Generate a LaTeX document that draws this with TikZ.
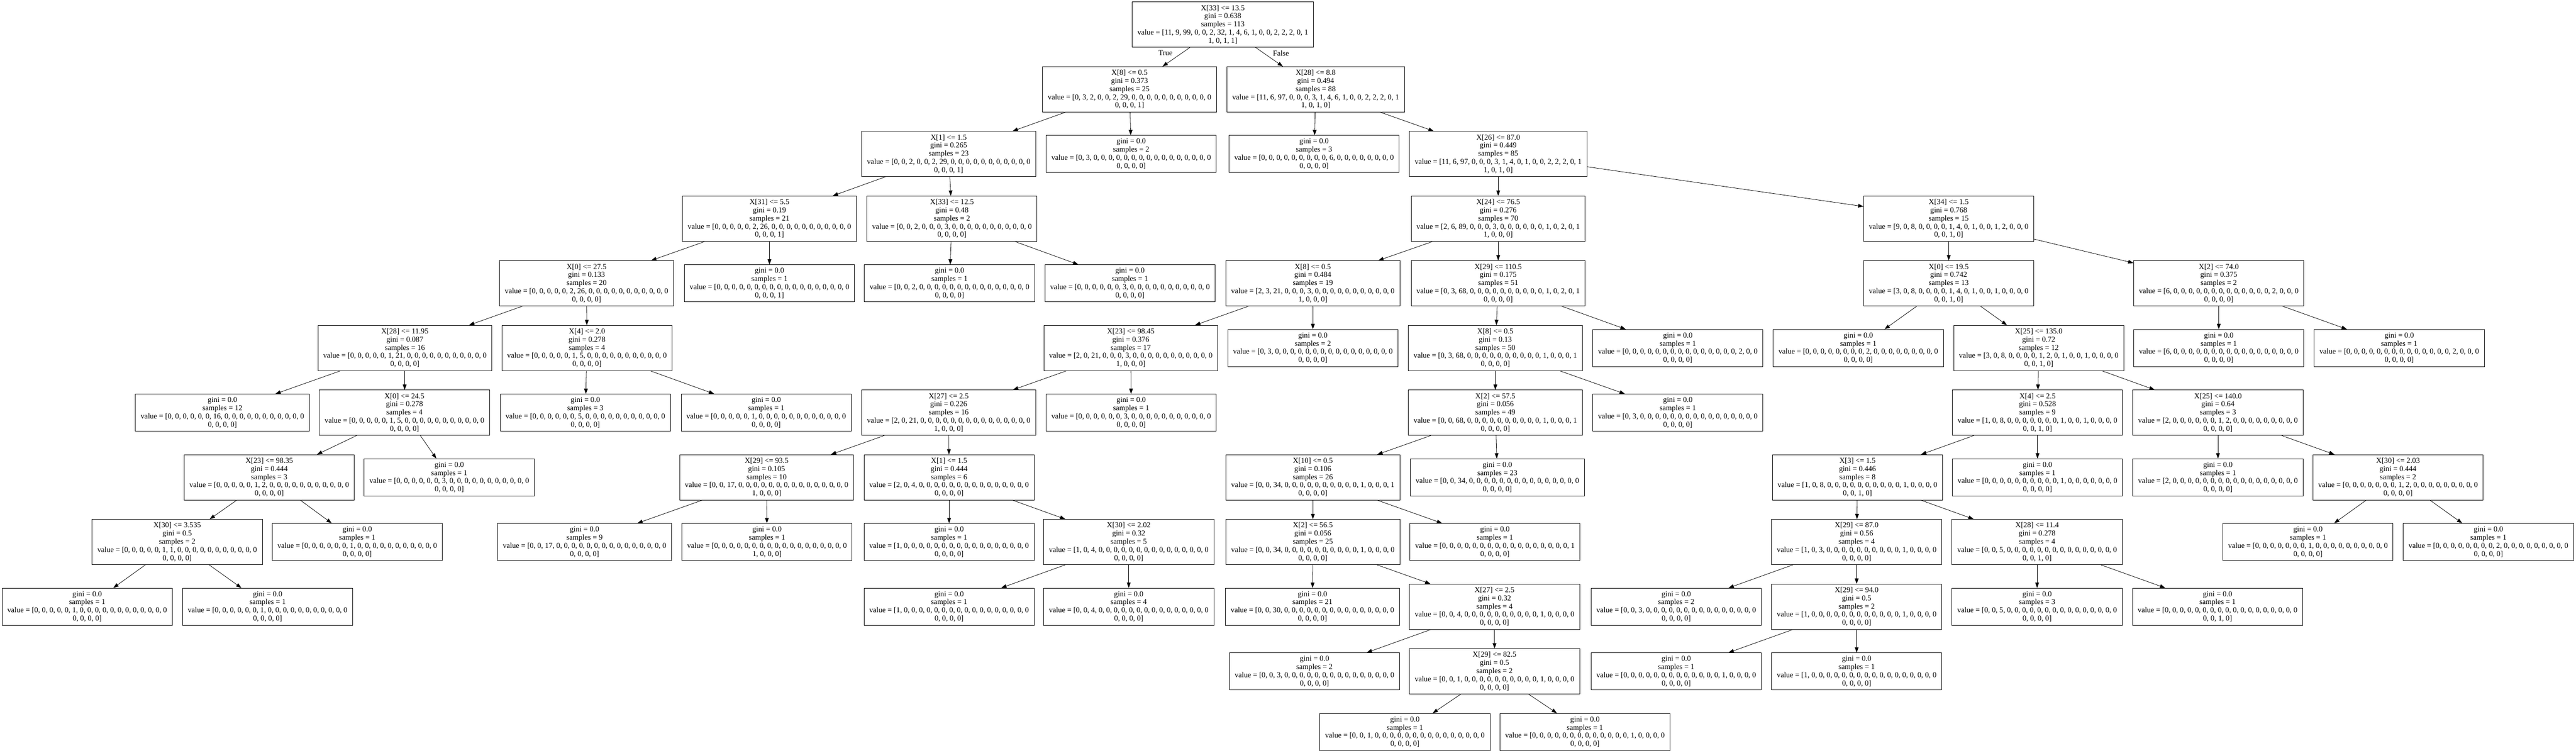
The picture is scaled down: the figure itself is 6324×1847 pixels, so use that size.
\documentclass[tikz,border=0pt]{standalone}
\usepackage{fontspec}
\setmainfont{Liberation Serif}
\usepackage{tikz}
\usetikzlibrary{shapes,arrows,positioning,arrows.meta}

\begin{document}
\begin{tikzpicture}[x=0.5pt, y=-0.5pt, node distance=79.35pt, font=\fontsize{9.3}{10}\selectfont,
        >={Triangle[length=6.5pt,width=4.6pt]},
        split/.style={rectangle, draw, line width=0.6pt, align=center, inner xsep=6.5pt, inner ysep=2pt, minimum height=55.5pt},
        leaf/.style={split, minimum height=45.5pt},
        branch/.style={->, line width=0.5pt}]
    \useasboundingbox (0,0) rectangle (6324,1847);

    % level 0 and 1
    \node (root) [split] at (3002,60.5) {X[33] <= 13.5\\gini = 0.638\\samples = 113\\value = [11, 9, 99, 0, 0, 2, 32, 1, 4, 6, 1, 0, 0, 2, 2, 2, 0, 1\\1, 0, 1, 1]};
    \node (l1a) [split, below of=root, xshift=-114.5pt] {X[8] <= 0.5\\gini = 0.373\\samples = 25\\value = [0, 3, 2, 0, 0, 2, 29, 0, 0, 0, 0, 0, 0, 0, 0, 0, 0, 0\\0, 0, 0, 1]};
    \node (l1b) [split, below of=root, xshift=114pt] {X[28] <= 8.8\\gini = 0.494\\samples = 88\\value = [11, 6, 97, 0, 0, 0, 3, 1, 4, 6, 1, 0, 0, 2, 2, 2, 0, 1\\1, 0, 1, 0]};

    % level 2
    \node (l2a) [split, below of=l1a, xshift=-222pt] {X[1] <= 1.5\\gini = 0.265\\samples = 23\\value = [0, 0, 2, 0, 0, 2, 29, 0, 0, 0, 0, 0, 0, 0, 0, 0, 0, 0\\0, 0, 0, 1]};
    \node (l2b) [leaf, below of=l1a, xshift=2pt] {gini = 0.0\\samples = 2\\value = [0, 3, 0, 0, 0, 0, 0, 0, 0, 0, 0, 0, 0, 0, 0, 0, 0, 0\\0, 0, 0, 0]};
    \node (l2c) [leaf, below of=l1b, xshift=-2pt] {gini = 0.0\\samples = 3\\value = [0, 0, 0, 0, 0, 0, 0, 0, 0, 6, 0, 0, 0, 0, 0, 0, 0, 0\\0, 0, 0, 0]};
    \node (l2d) [split, below of=l1b, xshift=224pt] {X[26] <= 87.0\\gini = 0.449\\samples = 85\\value = [11, 6, 97, 0, 0, 0, 3, 1, 4, 0, 1, 0, 0, 2, 2, 2, 0, 1\\1, 0, 1, 0]};

    % level 3
    \node (l3a) [split, below of=l2a, xshift=-220pt] {X[31] <= 5.5\\gini = 0.19\\samples = 21\\value = [0, 0, 0, 0, 0, 2, 26, 0, 0, 0, 0, 0, 0, 0, 0, 0, 0, 0\\0, 0, 0, 1]};
    \node (l3b) [split, below of=l2a, xshift=4pt] {X[33] <= 12.5\\gini = 0.48\\samples = 2\\value = [0, 0, 2, 0, 0, 0, 3, 0, 0, 0, 0, 0, 0, 0, 0, 0, 0, 0\\0, 0, 0, 0]};
    \node (l3c) [split, below of=l2d] {X[24] <= 76.5\\gini = 0.276\\samples = 70\\value = [2, 6, 89, 0, 0, 0, 3, 0, 0, 0, 0, 0, 0, 1, 0, 2, 0, 1\\1, 0, 0, 0]};
    \node (l3d) [split, below of=l2d, xshift=553pt] {X[34] <= 1.5\\gini = 0.768\\samples = 15\\value = [9, 0, 8, 0, 0, 0, 0, 1, 4, 0, 1, 0, 0, 1, 2, 0, 0, 0\\0, 0, 1, 0]};

    % level 4
    \node (l4a) [split, below of=l3a, xshift=-224.5pt] {X[0] <= 27.5\\gini = 0.133\\samples = 20\\value = [0, 0, 0, 0, 0, 2, 26, 0, 0, 0, 0, 0, 0, 0, 0, 0, 0, 0\\0, 0, 0, 0]};
    \node (l4b) [leaf, below of=l3a] {gini = 0.0\\samples = 1\\value = [0, 0, 0, 0, 0, 0, 0, 0, 0, 0, 0, 0, 0, 0, 0, 0, 0, 0\\0, 0, 0, 1]};
    \node (l4c) [leaf, below of=l3b, xshift=-3pt] {gini = 0.0\\samples = 1\\value = [0, 0, 2, 0, 0, 0, 0, 0, 0, 0, 0, 0, 0, 0, 0, 0, 0, 0\\0, 0, 0, 0]};
    \node (l4d) [leaf, below of=l3b, xshift=218.5pt] {gini = 0.0\\samples = 1\\value = [0, 0, 0, 0, 0, 0, 3, 0, 0, 0, 0, 0, 0, 0, 0, 0, 0, 0\\0, 0, 0, 0]};
    \node (l4e) [split, below of=l3c, xshift=-227.5pt] {X[8] <= 0.5\\gini = 0.484\\samples = 19\\value = [2, 3, 21, 0, 0, 0, 3, 0, 0, 0, 0, 0, 0, 0, 0, 0, 0, 0\\1, 0, 0, 0]};
    \node (l4f) [split, below of=l3c] {X[29] <= 110.5\\gini = 0.175\\samples = 51\\value = [0, 3, 68, 0, 0, 0, 0, 0, 0, 0, 0, 0, 0, 1, 0, 2, 0, 1\\0, 0, 0, 0]};
    \node (l4g) [split, below of=l3d] {X[0] <= 19.5\\gini = 0.742\\samples = 13\\value = [3, 0, 8, 0, 0, 0, 0, 1, 4, 0, 1, 0, 0, 1, 0, 0, 0, 0\\0, 0, 1, 0]};
    \node (l4h) [split, below of=l3d, xshift=331.5pt] {X[2] <= 74.0\\gini = 0.375\\samples = 2\\value = [6, 0, 0, 0, 0, 0, 0, 0, 0, 0, 0, 0, 0, 0, 2, 0, 0, 0\\0, 0, 0, 0]};

    % level 5
    \node (l5a) [split, below of=l4a, xshift=-223pt] {X[28] <= 11.95\\gini = 0.087\\samples = 16\\value = [0, 0, 0, 0, 0, 1, 21, 0, 0, 0, 0, 0, 0, 0, 0, 0, 0, 0\\0, 0, 0, 0]};
    \node (l5b) [split, below of=l4a, xshift=0.5pt] {X[4] <= 2.0\\gini = 0.278\\samples = 4\\value = [0, 0, 0, 0, 0, 1, 5, 0, 0, 0, 0, 0, 0, 0, 0, 0, 0, 0\\0, 0, 0, 0]};
    \node (l5c) [split, below of=l4e, xshift=-223.5pt] {X[23] <= 98.45\\gini = 0.376\\samples = 17\\value = [2, 0, 21, 0, 0, 0, 3, 0, 0, 0, 0, 0, 0, 0, 0, 0, 0, 0\\1, 0, 0, 0]};
    \node (l5d) [leaf, below of=l4e] {gini = 0.0\\samples = 2\\value = [0, 3, 0, 0, 0, 0, 0, 0, 0, 0, 0, 0, 0, 0, 0, 0, 0, 0\\0, 0, 0, 0]};
    \node (l5e) [split, below of=l4f, xshift=-3.5pt] {X[8] <= 0.5\\gini = 0.13\\samples = 50\\value = [0, 3, 68, 0, 0, 0, 0, 0, 0, 0, 0, 0, 0, 1, 0, 0, 0, 1\\0, 0, 0, 0]};
    \node (l5f) [leaf, below of=l4f, xshift=220.5pt] {gini = 0.0\\samples = 1\\value = [0, 0, 0, 0, 0, 0, 0, 0, 0, 0, 0, 0, 0, 0, 0, 2, 0, 0\\0, 0, 0, 0]};
    \node (l5g) [leaf, below of=l4g, xshift=-111pt] {gini = 0.0\\samples = 1\\value = [0, 0, 0, 0, 0, 0, 0, 0, 2, 0, 0, 0, 0, 0, 0, 0, 0, 0\\0, 0, 0, 0]};
    \node (l5h) [split, below of=l4g, xshift=110.5pt] {X[25] <= 135.0\\gini = 0.72\\samples = 12\\value = [3, 0, 8, 0, 0, 0, 0, 1, 2, 0, 1, 0, 0, 1, 0, 0, 0, 0\\0, 0, 1, 0]};
    \node (l5i) [leaf, below of=l4h] {gini = 0.0\\samples = 1\\value = [6, 0, 0, 0, 0, 0, 0, 0, 0, 0, 0, 0, 0, 0, 0, 0, 0, 0\\0, 0, 0, 0]};
    \node (l5j) [leaf, below of=l4h, xshift=221.5pt] {gini = 0.0\\samples = 1\\value = [0, 0, 0, 0, 0, 0, 0, 0, 0, 0, 0, 0, 0, 0, 2, 0, 0, 0\\0, 0, 0, 0]};

    % level 6
    \node (l6a) [leaf, below of=l5a, xshift=-224pt] {gini = 0.0\\samples = 12\\value = [0, 0, 0, 0, 0, 0, 16, 0, 0, 0, 0, 0, 0, 0, 0, 0, 0, 0\\0, 0, 0, 0]};
    \node (l6b) [split, below of=l5a, xshift=-0.5pt] {X[0] <= 24.5\\gini = 0.278\\samples = 4\\value = [0, 0, 0, 0, 0, 1, 5, 0, 0, 0, 0, 0, 0, 0, 0, 0, 0, 0\\0, 0, 0, 0]};
    \node (l6c) [leaf, below of=l5b, xshift=-2pt] {gini = 0.0\\samples = 3\\value = [0, 0, 0, 0, 0, 0, 5, 0, 0, 0, 0, 0, 0, 0, 0, 0, 0, 0\\0, 0, 0, 0]};
    \node (l6d) [leaf, below of=l5b, xshift=220pt] {gini = 0.0\\samples = 1\\value = [0, 0, 0, 0, 0, 1, 0, 0, 0, 0, 0, 0, 0, 0, 0, 0, 0, 0\\0, 0, 0, 0]};
    \node (l6e) [split, below of=l5c, xshift=-223.5pt] {X[27] <= 2.5\\gini = 0.226\\samples = 16\\value = [2, 0, 21, 0, 0, 0, 0, 0, 0, 0, 0, 0, 0, 0, 0, 0, 0, 0\\1, 0, 0, 0]};
    \node (l6f) [leaf, below of=l5c, xshift=0.5pt] {gini = 0.0\\samples = 1\\value = [0, 0, 0, 0, 0, 0, 3, 0, 0, 0, 0, 0, 0, 0, 0, 0, 0, 0\\0, 0, 0, 0]};
    \node (l6g) [split, below of=l5e] {X[2] <= 57.5\\gini = 0.056\\samples = 49\\value = [0, 0, 68, 0, 0, 0, 0, 0, 0, 0, 0, 0, 0, 1, 0, 0, 0, 1\\0, 0, 0, 0]};
    \node (l6h) [leaf, below of=l5e, xshift=224pt] {gini = 0.0\\samples = 1\\value = [0, 3, 0, 0, 0, 0, 0, 0, 0, 0, 0, 0, 0, 0, 0, 0, 0, 0\\0, 0, 0, 0]};
    \node (l6i) [split, below of=l5h, xshift=-1.5pt] {X[4] <= 2.5\\gini = 0.528\\samples = 9\\value = [1, 0, 8, 0, 0, 0, 0, 0, 0, 0, 1, 0, 0, 1, 0, 0, 0, 0\\0, 0, 1, 0]};
    \node (l6j) [split, below of=l5h, xshift=220pt] {X[25] <= 140.0\\gini = 0.64\\samples = 3\\value = [2, 0, 0, 0, 0, 0, 0, 1, 2, 0, 0, 0, 0, 0, 0, 0, 0, 0\\0, 0, 0, 0]};

    % level 7
    \node (l7a) [split, below of=l6b, xshift=-166pt] {X[23] <= 98.35\\gini = 0.444\\samples = 3\\value = [0, 0, 0, 0, 0, 1, 2, 0, 0, 0, 0, 0, 0, 0, 0, 0, 0, 0\\0, 0, 0, 0]};
    \node (l7b) [leaf, below of=l6b, xshift=55pt] {gini = 0.0\\samples = 1\\value = [0, 0, 0, 0, 0, 0, 3, 0, 0, 0, 0, 0, 0, 0, 0, 0, 0, 0\\0, 0, 0, 0]};
    \node (l7c) [split, below of=l6e, xshift=-223.5pt] {X[29] <= 93.5\\gini = 0.105\\samples = 10\\value = [0, 0, 17, 0, 0, 0, 0, 0, 0, 0, 0, 0, 0, 0, 0, 0, 0, 0\\1, 0, 0, 0]};
    \node (l7d) [split, below of=l6e, xshift=0.5pt] {X[1] <= 1.5\\gini = 0.444\\samples = 6\\value = [2, 0, 4, 0, 0, 0, 0, 0, 0, 0, 0, 0, 0, 0, 0, 0, 0, 0\\0, 0, 0, 0]};
    \node (l7e) [split, below of=l6g, xshift=-224pt] {X[10] <= 0.5\\gini = 0.106\\samples = 26\\value = [0, 0, 34, 0, 0, 0, 0, 0, 0, 0, 0, 0, 0, 1, 0, 0, 0, 1\\0, 0, 0, 0]};
    \node (l7f) [leaf, below of=l6g, xshift=2.5pt] {gini = 0.0\\samples = 23\\value = [0, 0, 34, 0, 0, 0, 0, 0, 0, 0, 0, 0, 0, 0, 0, 0, 0, 0\\0, 0, 0, 0]};
    \node (l7g) [split, below of=l6i, xshift=-221pt] {X[3] <= 1.5\\gini = 0.446\\samples = 8\\value = [1, 0, 8, 0, 0, 0, 0, 0, 0, 0, 0, 0, 0, 1, 0, 0, 0, 0\\0, 0, 1, 0]};
    \node (l7h) [leaf, below of=l6i] {gini = 0.0\\samples = 1\\value = [0, 0, 0, 0, 0, 0, 0, 0, 0, 0, 1, 0, 0, 0, 0, 0, 0, 0\\0, 0, 0, 0]};
    \node (l7i) [leaf, below of=l6j] {gini = 0.0\\samples = 1\\value = [2, 0, 0, 0, 0, 0, 0, 0, 0, 0, 0, 0, 0, 0, 0, 0, 0, 0\\0, 0, 0, 0]};
    \node (l7j) [split, below of=l6j, xshift=221pt] {X[30] <= 2.03\\gini = 0.444\\samples = 2\\value = [0, 0, 0, 0, 0, 0, 0, 1, 2, 0, 0, 0, 0, 0, 0, 0, 0, 0\\0, 0, 0, 0]};

    % level 8
    \node (l8a) [split, below of=l7a, xshift=-113pt] {X[30] <= 3.535\\gini = 0.5\\samples = 2\\value = [0, 0, 0, 0, 0, 1, 1, 0, 0, 0, 0, 0, 0, 0, 0, 0, 0, 0\\0, 0, 0, 0]};
    \node (l8b) [leaf, below of=l7a, xshift=108pt] {gini = 0.0\\samples = 1\\value = [0, 0, 0, 0, 0, 0, 1, 0, 0, 0, 0, 0, 0, 0, 0, 0, 0, 0\\0, 0, 0, 0]};
    \node (l8c) [leaf, below of=l7c, xshift=-223.5pt] {gini = 0.0\\samples = 9\\value = [0, 0, 17, 0, 0, 0, 0, 0, 0, 0, 0, 0, 0, 0, 0, 0, 0, 0\\0, 0, 0, 0]};
    \node (l8d) [leaf, below of=l7c, xshift=0.5pt] {gini = 0.0\\samples = 1\\value = [0, 0, 0, 0, 0, 0, 0, 0, 0, 0, 0, 0, 0, 0, 0, 0, 0, 0\\1, 0, 0, 0]};
    \node (l8e) [leaf, below of=l7d] {gini = 0.0\\samples = 1\\value = [1, 0, 0, 0, 0, 0, 0, 0, 0, 0, 0, 0, 0, 0, 0, 0, 0, 0\\0, 0, 0, 0]};
    \node (l8f) [split, below of=l7d, xshift=220.5pt] {X[30] <= 2.02\\gini = 0.32\\samples = 5\\value = [1, 0, 4, 0, 0, 0, 0, 0, 0, 0, 0, 0, 0, 0, 0, 0, 0, 0\\0, 0, 0, 0]};
    \node (l8g) [split, below of=l7e] {X[2] <= 56.5\\gini = 0.056\\samples = 25\\value = [0, 0, 34, 0, 0, 0, 0, 0, 0, 0, 0, 0, 0, 1, 0, 0, 0, 0\\0, 0, 0, 0]};
    \node (l8h) [leaf, below of=l7e, xshift=223.5pt] {gini = 0.0\\samples = 1\\value = [0, 0, 0, 0, 0, 0, 0, 0, 0, 0, 0, 0, 0, 0, 0, 0, 0, 1\\0, 0, 0, 0]};
    \node (l8i) [split, below of=l7g, xshift=-1pt] {X[29] <= 87.0\\gini = 0.56\\samples = 4\\value = [1, 0, 3, 0, 0, 0, 0, 0, 0, 0, 0, 0, 0, 1, 0, 0, 0, 0\\0, 0, 0, 0]};
    \node (l8j) [split, below of=l7g, xshift=220.5pt] {X[28] <= 11.4\\gini = 0.278\\samples = 4\\value = [0, 0, 5, 0, 0, 0, 0, 0, 0, 0, 0, 0, 0, 0, 0, 0, 0, 0\\0, 0, 1, 0]};
    \node (l8k) [leaf, below of=l7j, xshift=-110.5pt] {gini = 0.0\\samples = 1\\value = [0, 0, 0, 0, 0, 0, 0, 1, 0, 0, 0, 0, 0, 0, 0, 0, 0, 0\\0, 0, 0, 0]};
    \node (l8l) [leaf, below of=l7j, xshift=111pt] {gini = 0.0\\samples = 1\\value = [0, 0, 0, 0, 0, 0, 0, 0, 2, 0, 0, 0, 0, 0, 0, 0, 0, 0\\0, 0, 0, 0]};

    % level 9
    \node (l9a) [leaf, below of=l8a, xshift=-110.5pt] {gini = 0.0\\samples = 1\\value = [0, 0, 0, 0, 0, 1, 0, 0, 0, 0, 0, 0, 0, 0, 0, 0, 0, 0\\0, 0, 0, 0]};
    \node (l9b) [leaf, below of=l8a, xshift=111pt] {gini = 0.0\\samples = 1\\value = [0, 0, 0, 0, 0, 0, 1, 0, 0, 0, 0, 0, 0, 0, 0, 0, 0, 0\\0, 0, 0, 0]};
    \node (l9c) [leaf, below of=l8f, xshift=-220.5pt] {gini = 0.0\\samples = 1\\value = [1, 0, 0, 0, 0, 0, 0, 0, 0, 0, 0, 0, 0, 0, 0, 0, 0, 0\\0, 0, 0, 0]};
    \node (l9d) [leaf, below of=l8f] {gini = 0.0\\samples = 4\\value = [0, 0, 4, 0, 0, 0, 0, 0, 0, 0, 0, 0, 0, 0, 0, 0, 0, 0\\0, 0, 0, 0]};
    \node (l9e) [leaf, below of=l8g, xshift=-0.5pt] {gini = 0.0\\samples = 21\\value = [0, 0, 30, 0, 0, 0, 0, 0, 0, 0, 0, 0, 0, 0, 0, 0, 0, 0\\0, 0, 0, 0]};
    \node (l9f) [split, below of=l8g, xshift=223pt] {X[27] <= 2.5\\gini = 0.32\\samples = 4\\value = [0, 0, 4, 0, 0, 0, 0, 0, 0, 0, 0, 0, 0, 1, 0, 0, 0, 0\\0, 0, 0, 0]};
    \node (l9g) [leaf, below of=l8i, xshift=-221.5pt] {gini = 0.0\\samples = 2\\value = [0, 0, 3, 0, 0, 0, 0, 0, 0, 0, 0, 0, 0, 0, 0, 0, 0, 0\\0, 0, 0, 0]};
    \node (l9h) [split, below of=l8i] {X[29] <= 94.0\\gini = 0.5\\samples = 2\\value = [1, 0, 0, 0, 0, 0, 0, 0, 0, 0, 0, 0, 0, 1, 0, 0, 0, 0\\0, 0, 0, 0]};
    \node (l9i) [leaf, below of=l8j] {gini = 0.0\\samples = 3\\value = [0, 0, 5, 0, 0, 0, 0, 0, 0, 0, 0, 0, 0, 0, 0, 0, 0, 0\\0, 0, 0, 0]};
    \node (l9j) [leaf, below of=l8j, xshift=221.5pt] {gini = 0.0\\samples = 1\\value = [0, 0, 0, 0, 0, 0, 0, 0, 0, 0, 0, 0, 0, 0, 0, 0, 0, 0\\0, 0, 1, 0]};

    % level 10 and 11
    \node (l10a) [leaf, below of=l9f, xshift=-221pt] {gini = 0.0\\samples = 2\\value = [0, 0, 3, 0, 0, 0, 0, 0, 0, 0, 0, 0, 0, 0, 0, 0, 0, 0\\0, 0, 0, 0]};
    \node (l10b) [split, below of=l9f] {X[29] <= 82.5\\gini = 0.5\\samples = 2\\value = [0, 0, 1, 0, 0, 0, 0, 0, 0, 0, 0, 0, 0, 1, 0, 0, 0, 0\\0, 0, 0, 0]};
    \node (l10c) [leaf, below of=l9h, xshift=-221.5pt] {gini = 0.0\\samples = 1\\value = [0, 0, 0, 0, 0, 0, 0, 0, 0, 0, 0, 0, 0, 1, 0, 0, 0, 0\\0, 0, 0, 0]};
    \node (l10d) [leaf, below of=l9h] {gini = 0.0\\samples = 1\\value = [1, 0, 0, 0, 0, 0, 0, 0, 0, 0, 0, 0, 0, 0, 0, 0, 0, 0\\0, 0, 0, 0]};
    \node (l11a) [leaf, node distance=74.35pt, below of=l10b, xshift=-110pt] {gini = 0.0\\samples = 1\\value = [0, 0, 1, 0, 0, 0, 0, 0, 0, 0, 0, 0, 0, 0, 0, 0, 0, 0\\0, 0, 0, 0]};
    \node (l11b) [leaf, node distance=74.35pt, below of=l10b, xshift=111pt] {gini = 0.0\\samples = 1\\value = [0, 0, 0, 0, 0, 0, 0, 0, 0, 0, 0, 0, 0, 1, 0, 0, 0, 0\\0, 0, 0, 0]};

    % edges
    \draw [branch] (root) -- node [left=11pt, pos=0.3, inner sep=0pt] {True} (l1a);
    \draw [branch] (root) -- node [right=11pt, pos=0.3, inner sep=0pt] {False} (l1b);
    \draw [branch] (l1a) -- (l2a);
    \draw [branch] (l1a) -- (l2b);
    \draw [branch] (l1b) -- (l2c);
    \draw [branch] (l1b) -- (l2d);
    \draw [branch] (l2a) -- (l3a);
    \draw [branch] (l2a) -- (l3b);
    \draw [branch] (l2d) -- (l3c);
    \draw [branch] (l2d) -- (l3d);
    \draw [branch] (l3a) -- (l4a);
    \draw [branch] (l3a) -- (l4b);
    \draw [branch] (l3b) -- (l4c);
    \draw [branch] (l3b) -- (l4d);
    \draw [branch] (l3c) -- (l4e);
    \draw [branch] (l3c) -- (l4f);
    \draw [branch] (l3d) -- (l4g);
    \draw [branch] (l3d) -- (l4h);
    \draw [branch] (l4a) -- (l5a);
    \draw [branch] (l4a) -- (l5b);
    \draw [branch] (l4e) -- (l5c);
    \draw [branch] (l4e) -- (l5d);
    \draw [branch] (l4f) -- (l5e);
    \draw [branch] (l4f) -- (l5f);
    \draw [branch] (l4g) -- (l5g);
    \draw [branch] (l4g) -- (l5h);
    \draw [branch] (l4h) -- (l5i);
    \draw [branch] (l4h) -- (l5j);
    \draw [branch] (l5a) -- (l6a);
    \draw [branch] (l5a) -- (l6b);
    \draw [branch] (l5b) -- (l6c);
    \draw [branch] (l5b) -- (l6d);
    \draw [branch] (l5c) -- (l6e);
    \draw [branch] (l5c) -- (l6f);
    \draw [branch] (l5e) -- (l6g);
    \draw [branch] (l5e) -- (l6h);
    \draw [branch] (l5h) -- (l6i);
    \draw [branch] (l5h) -- (l6j);
    \draw [branch] (l6b) -- (l7a);
    \draw [branch] (l6b) -- (l7b);
    \draw [branch] (l6e) -- (l7c);
    \draw [branch] (l6e) -- (l7d);
    \draw [branch] (l6g) -- (l7e);
    \draw [branch] (l6g) -- (l7f);
    \draw [branch] (l6i) -- (l7g);
    \draw [branch] (l6i) -- (l7h);
    \draw [branch] (l6j) -- (l7i);
    \draw [branch] (l6j) -- (l7j);
    \draw [branch] (l7a) -- (l8a);
    \draw [branch] (l7a) -- (l8b);
    \draw [branch] (l7c) -- (l8c);
    \draw [branch] (l7c) -- (l8d);
    \draw [branch] (l7d) -- (l8e);
    \draw [branch] (l7d) -- (l8f);
    \draw [branch] (l7e) -- (l8g);
    \draw [branch] (l7e) -- (l8h);
    \draw [branch] (l7g) -- (l8i);
    \draw [branch] (l7g) -- (l8j);
    \draw [branch] (l7j) -- (l8k);
    \draw [branch] (l7j) -- (l8l);
    \draw [branch] (l8a) -- (l9a);
    \draw [branch] (l8a) -- (l9b);
    \draw [branch] (l8f) -- (l9c);
    \draw [branch] (l8f) -- (l9d);
    \draw [branch] (l8g) -- (l9e);
    \draw [branch] (l8g) -- (l9f);
    \draw [branch] (l8i) -- (l9g);
    \draw [branch] (l8i) -- (l9h);
    \draw [branch] (l8j) -- (l9i);
    \draw [branch] (l8j) -- (l9j);
    \draw [branch] (l9f) -- (l10a);
    \draw [branch] (l9f) -- (l10b);
    \draw [branch] (l9h) -- (l10c);
    \draw [branch] (l9h) -- (l10d);
    \draw [branch] (l10b) -- (l11a);
    \draw [branch] (l10b) -- (l11b);
\end{tikzpicture}
\end{document}
